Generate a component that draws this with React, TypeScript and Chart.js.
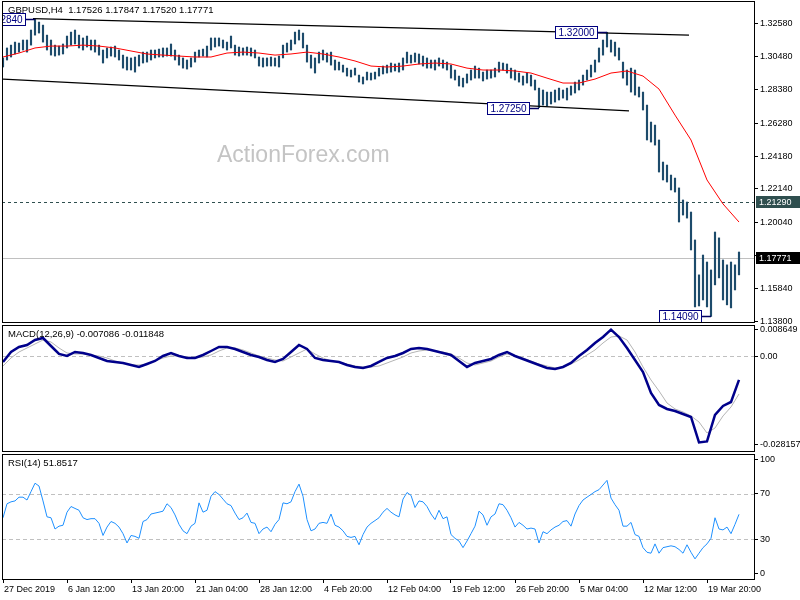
import React, { useEffect, useRef } from "react";
import { Chart, registerables } from "chart.js";

Chart.register(...registerables);

const FONT = '"Liberation Sans", Arial, Helvetica, sans-serif';

// ---------------- texts ----------------
const symbolTitle = "GBPUSD,H4  1.17526 1.17847 1.17520 1.17771";
const macdTitle = "MACD(12,26,9) -0.007086 -0.011848";
const rsiTitle = "RSI(14) 51.8517";
const watermark = "ActionForex.com";

// ---------------- time axis (H4 bar index) ----------------
const timeTickIdx = [0, 32, 64, 96, 128, 160, 192, 224, 256, 288, 320, 352];
const timeTickLabels = [
  "27 Dec 2019", "6 Jan 12:00", "13 Jan 20:00", "21 Jan 04:00", "28 Jan 12:00", "4 Feb 20:00",
  "12 Feb 04:00", "19 Feb 12:00", "26 Feb 20:00", "5 Mar 04:00", "12 Mar 12:00", "19 Mar 20:00",
];

// ---------------- axis ticks ----------------
const priceTicks = [1.3258, 1.3048, 1.2838, 1.2628, 1.2418, 1.2214, 1.2004, 1.1794, 1.1584, 1.138];
const macdTicks = [0.008649, 0, -0.028157];
const macdTickLabels = ["0.008649", "0.00", "-0.028157"];
const rsiTicks = [100, 70, 30, 0];
const rsiLevels = [70, 30];

// ---------------- price bars (every 2nd H4 bar) ----------------
const priceHigh = [
  1.3038, 1.3101, 1.3119, 1.3138, 1.3132, 1.3151, 1.3151, 1.3214, 1.3284, 1.3264,
  1.3245, 1.3182, 1.3151, 1.3119, 1.3113, 1.3126, 1.3176, 1.3201, 1.3214, 1.3182,
  1.3164, 1.3176, 1.3151, 1.3151, 1.3119, 1.3088, 1.3101, 1.3107, 1.3113, 1.3088,
  1.3056, 1.3044, 1.3038, 1.3044, 1.3056, 1.3075, 1.3075, 1.3088, 1.3088, 1.3094,
  1.3101, 1.3101, 1.3126, 1.3088, 1.3056, 1.3038, 1.3025, 1.3038, 1.3075, 1.3088,
  1.3094, 1.3113, 1.3164, 1.3164, 1.3164, 1.3151, 1.3138, 1.3176, 1.3119, 1.3107,
  1.3101, 1.3107, 1.3101, 1.3088, 1.3044, 1.3038, 1.3038, 1.3044, 1.3038, 1.3050,
  1.3119, 1.3132, 1.3151, 1.3201, 1.3214, 1.3195, 1.3119, 1.3056, 1.3038, 1.3075,
  1.3088, 1.3069, 1.3075, 1.3025, 1.3012, 1.2993, 1.2974, 1.2962, 1.2974, 1.2930,
  1.2918, 1.2949, 1.2943, 1.2949, 1.2974, 1.2987, 1.2993, 1.3006, 1.3000, 1.3006,
  1.3038, 1.3075, 1.3056, 1.3069, 1.3063, 1.3050, 1.3038, 1.3025, 1.3025, 1.3038,
  1.3025, 1.3012, 1.2993, 1.2962, 1.2924, 1.2911, 1.2937, 1.2962, 1.2987, 1.2974,
  1.2949, 1.2962, 1.2962, 1.2974, 1.3012, 1.3006, 1.3000, 1.2974, 1.2962, 1.2943,
  1.2924, 1.2943, 1.2930, 1.2899, 1.2848, 1.2836, 1.2823, 1.2823, 1.2836, 1.2848,
  1.2836, 1.2848, 1.2861, 1.2886, 1.2899, 1.2930, 1.2962, 1.2993, 1.3025, 1.3101,
  1.3151, 1.3200, 1.3151, 1.3138, 1.3101, 1.3012, 1.2962, 1.2974, 1.2962, 1.2855,
  1.2823, 1.2741, 1.2634, 1.2615, 1.2521, 1.2382, 1.2363, 1.2300, 1.2281, 1.2219,
  1.2143, 1.2130, 1.2067, 1.1891, 1.1671, 1.1796, 1.1752, 1.1702, 1.1941, 1.1904,
  1.1765, 1.1734, 1.1752, 1.1734, 1.1815,
];
const priceLow = [
  1.2981, 1.3025, 1.3044, 1.3063, 1.3075, 1.3088, 1.3075, 1.3119, 1.3182, 1.3195,
  1.3138, 1.3088, 1.3056, 1.3050, 1.3056, 1.3063, 1.3101, 1.3119, 1.3126, 1.3101,
  1.3088, 1.3107, 1.3088, 1.3075, 1.3056, 1.3006, 1.3038, 1.3050, 1.3044, 1.3025,
  1.2974, 1.2962, 1.2962, 1.2949, 1.2987, 1.3006, 1.3012, 1.3025, 1.3038, 1.3044,
  1.3044, 1.3050, 1.3050, 1.3025, 1.2993, 1.2974, 1.2968, 1.2981, 1.3012, 1.3044,
  1.3050, 1.3044, 1.3088, 1.3107, 1.3113, 1.3101, 1.3088, 1.3101, 1.3056, 1.3050,
  1.3056, 1.3056, 1.3050, 1.3038, 1.2987, 1.2981, 1.2987, 1.2987, 1.2987, 1.2981,
  1.3038, 1.3075, 1.3088, 1.3126, 1.3151, 1.3101, 1.3012, 1.2974, 1.2943, 1.3006,
  1.3025, 1.3012, 1.2993, 1.2962, 1.2962, 1.2949, 1.2924, 1.2918, 1.2930, 1.2886,
  1.2874, 1.2899, 1.2899, 1.2905, 1.2924, 1.2937, 1.2943, 1.2949, 1.2956, 1.2949,
  1.2962, 1.3006, 1.3006, 1.3012, 1.3000, 1.2987, 1.2974, 1.2974, 1.2962, 1.2987,
  1.2974, 1.2962, 1.2911, 1.2899, 1.2861, 1.2855, 1.2880, 1.2899, 1.2911, 1.2911,
  1.2893, 1.2905, 1.2911, 1.2918, 1.2949, 1.2962, 1.2943, 1.2911, 1.2899, 1.2886,
  1.2867, 1.2880, 1.2861, 1.2836, 1.2725, 1.2741, 1.2735, 1.2748, 1.2760, 1.2773,
  1.2785, 1.2773, 1.2804, 1.2817, 1.2836, 1.2867, 1.2899, 1.2918, 1.2949, 1.3012,
  1.3056, 1.3107, 1.3075, 1.3050, 1.3025, 1.2911, 1.2867, 1.2823, 1.2804, 1.2792,
  1.2710, 1.2521, 1.2508, 1.2489, 1.2319, 1.2269, 1.2256, 1.2206, 1.2193, 1.2004,
  1.2048, 1.2029, 1.1828, 1.1469, 1.1475, 1.1513, 1.1469, 1.1409, 1.1608, 1.1652,
  1.1513, 1.1482, 1.1463, 1.1576, 1.1671,
];

// ---------------- moving average (every 8th bar) ----------------
const ma = [
  1.3044, 1.3069, 1.3101, 1.3113, 1.3113, 1.3119, 1.3113, 1.3101, 1.3082, 1.3063,
  1.3056, 1.3050, 1.3044, 1.3044, 1.3069, 1.3075, 1.3069, 1.3056, 1.3063, 1.3075,
  1.3063, 1.3044, 1.3019, 1.2987, 1.2981, 1.2987, 1.3000, 1.3006, 1.3000, 1.2974,
  1.2962, 1.2962, 1.2956, 1.2943, 1.2911, 1.2880, 1.2880, 1.2905, 1.2943, 1.2956,
  1.2924, 1.2842, 1.2678, 1.2521, 1.2269, 1.2118, 1.2004,
];

// ---------------- MACD (every 4th bar) ----------------
const macdMain = [
  -0.00176, 0.00144, 0.00304, 0.00368, 0.00528, 0.00592, 0.00336, 0.0008, 0.00016, 0.00144,
  0.00112, 0.00048, -0.00048, -0.00144, -0.00176, -0.00208, -0.00272, -0.00336, -0.0024, -0.00144,
  0.00016, 0.00112, 0.00016, -0.00048, -0.00048, 0.00048, 0.00176, 0.00304, 0.00304, 0.0024,
  0.00144, 0.00048, -0.00016, -0.00112, -0.00176, -0.0008, 0.00144, 0.00368, 0.0024, -0.00048,
  -0.00112, -0.00144, -0.00176, -0.00272, -0.00336, -0.00368, -0.00304, -0.00176, -0.00048, 0.00016,
  0.00112, 0.0024, 0.00272, 0.0024, 0.00176, 0.00112, 0.00048, -0.00144, -0.00336, -0.00208,
  -0.00144, -0.0008, 0.00048, 0.00144, 0.00016, -0.0008, -0.00176, -0.00272, -0.00368, -0.004,
  -0.00336, -0.00208, 0.00016, 0.00208, 0.00432, 0.00624, 0.0086, 0.00624, 0.00272, -0.00112,
  -0.00496, -0.01168, -0.01552, -0.0168, -0.01745, -0.0184, -0.01936, -0.0275, -0.0272, -0.01872,
  -0.01584, -0.01456, -0.0075,
];
const macdSignal = [
  -0.00304, -0.00048, 0.00144, 0.00272, 0.004, 0.00528, 0.00464, 0.00272, 0.00112, 0.0008,
  0.0008, 0.00048, 0.00016, -0.00048, -0.00144, -0.00208, -0.00272, -0.00272, -0.0024, -0.00144,
  -0.00048, 0.00016, 0.00016, -0.00016, -0.00048, -0.00016, 0.00048, 0.00176, 0.00272, 0.00272,
  0.00208, 0.00112, 0.00016, -0.00048, -0.00112, -0.00144, -0.00016, 0.00112, 0.0024, 0.0008,
  -0.00048, -0.00144, -0.00176, -0.0024, -0.00304, -0.00336, -0.00336, -0.00304, -0.00208, -0.00112,
  -0.00016, 0.00112, 0.00176, 0.00208, 0.00176, 0.00144, 0.0008, -0.00048, -0.00208, -0.00272,
  -0.00208, -0.00144, -0.00016, 0.0008, 0.00016, -0.00048, -0.00144, -0.0024, -0.00304, -0.00368,
  -0.00336, -0.0024, -0.00112, 0.00048, 0.00208, 0.00432, 0.00624, 0.00656, 0.00528, 0.00144,
  -0.00336, -0.00752, -0.01104, -0.01488, -0.0168, -0.01776, -0.01904, -0.02097, -0.02449, -0.02289,
  -0.01904, -0.01616, -0.012,
];

// ---------------- RSI (every 2nd bar) ----------------
const rsi = [
  48.9, 61.2, 62.9, 63.7, 67.0, 67.0, 64.5, 71.9, 79.3, 76.8,
  63.7, 49.7, 48.9, 39.0, 41.5, 42.3, 53.8, 58.8, 57.1, 55.5,
  48.9, 47.3, 48.1, 48.1, 44.0, 33.3, 40.7, 45.6, 44.0, 40.7,
  34.9, 26.7, 33.3, 32.5, 30.8, 45.6, 47.3, 52.2, 53.0, 53.8,
  54.7, 61.2, 57.9, 51.4, 43.1, 37.4, 34.9, 41.5, 44.0, 62.0,
  53.8, 55.5, 67.8, 71.9, 69.4, 65.3, 61.2, 59.6, 53.0, 47.3,
  48.9, 53.0, 44.8, 44.0, 34.9, 39.0, 40.7, 36.6, 43.1, 47.3,
  62.0, 61.2, 62.9, 71.9, 78.5, 67.8, 47.3, 37.4, 39.0, 44.0,
  44.8, 44.0, 52.2, 42.3, 40.7, 37.4, 32.5, 31.6, 32.5, 25.1,
  34.1, 40.7, 44.0, 46.4, 48.9, 53.8, 57.1, 53.8, 51.4, 49.7,
  65.3, 71.1, 68.6, 57.9, 63.7, 62.9, 58.8, 52.2, 47.3, 55.5,
  48.1, 49.7, 34.1, 30.8, 28.4, 22.6, 28.4, 34.9, 41.5, 54.7,
  51.4, 42.3, 49.7, 52.2, 61.2, 60.4, 55.5, 48.9, 40.7, 44.8,
  42.3, 39.0, 39.8, 39.0, 26.7, 36.6, 34.9, 38.2, 40.7, 42.3,
  45.6, 46.4, 41.5, 52.2, 59.6, 64.5, 67.0, 69.4, 71.9, 73.6,
  77.7, 81.8, 66.2, 60.4, 55.5, 41.5, 41.5, 44.8, 34.1, 32.5,
  22.6, 18.5, 17.7, 25.9, 17.7, 22.6, 23.4, 24.2, 23.4, 21.0,
  17.7, 25.1, 18.5, 12.7, 17.7, 22.6, 25.9, 30.8, 48.9, 39.0,
  38.2, 40.7, 34.9, 43.1, 51.9,
];

// ---------------- price objects ----------------
const levelPrice = 1.2129;
const lastPrice = 1.17771;
const upperTrendIdx = [15, 343];
const upperTrendPrice = [1.3286, 1.3182];
const lowerTrendIdx = [0, 313];
const lowerTrendPrice = [1.2905, 1.2704];
const markIdx = [16, 268, 302, 354];
const markPrice = [1.3284, 1.2725, 1.32, 1.1409];

// bar index positions (category positions)
const barIdx = priceHigh.map((_, i) => i * 2);
const maIdx = ma.map((_, i) => i * 8);
const macdIdx = macdMain.map((_, i) => i * 4);
const rsiIdx = rsi.map((_, i) => i * 2);

const X_MIN = -0.5;
const X_MAX = 375.5;

function hiddenX(): any {
  return {
    type: "linear",
    min: X_MIN,
    max: X_MAX,
    offset: false,
    display: false,
    grid: { offset: false },
  };
}

function rightAxis(min: number, max: number, values: number[], labels: string[]): any {
  return {
    type: "linear",
    position: "right",
    min,
    max,
    afterBuildTicks: (s: any) => {
      s.ticks = values.map((v) => ({ value: v }));
    },
    afterFit: (s: any) => {
      s.width = 46;
      s.paddingTop = 0;
      s.paddingBottom = 0;
    },
    ticks: {
      autoSkip: false,
      padding: 2,
      color: "#000",
      font: { family: FONT, size: 9 },
      callback: (_v: any, i: number) => labels[i],
    },
    grid: { drawOnChartArea: false, drawTicks: true, tickLength: 4, color: "#000", tickColor: "#000" },
    border: { display: true, color: "#000" },
  };
}

function drawFrame(chart: any) {
  const { ctx, chartArea: a } = chart;
  ctx.save();
  ctx.strokeStyle = "#000";
  ctx.lineWidth = 1;
  ctx.strokeRect(a.left + 0.5, a.top + 0.5, a.right - a.left, a.bottom - a.top);
  ctx.restore();
}

function hLine(chart: any, value: number, color: string, dash: number[]) {
  const { ctx, chartArea: a, scales } = chart;
  const y = Math.round(scales.y.getPixelForValue(value)) + 0.5;
  ctx.save();
  ctx.strokeStyle = color;
  ctx.lineWidth = 1;
  ctx.setLineDash(dash);
  ctx.beginPath();
  ctx.moveTo(a.left, y);
  ctx.lineTo(a.right, y);
  ctx.stroke();
  ctx.restore();
}

function panelTitle(chart: any, text: string, dy: number) {
  const { ctx, chartArea: a } = chart;
  ctx.save();
  ctx.font = `9.5px ${FONT}`;
  ctx.fillStyle = "#000";
  ctx.textAlign = "left";
  ctx.textBaseline = "middle";
  ctx.fillText(text, a.left + 6, a.top + dy);
  ctx.restore();
}

function axisBox(chart: any, value: number, fill: string) {
  const { ctx, chartArea: a, scales } = chart;
  const y = Math.round(scales.y.getPixelForValue(value));
  ctx.save();
  ctx.fillStyle = fill;
  ctx.fillRect(a.right + 2, y - 6, 44, 12);
  ctx.font = `9px ${FONT}`;
  ctx.fillStyle = "#fff";
  ctx.textAlign = "left";
  ctx.textBaseline = "middle";
  ctx.fillText(value.toFixed(5), a.right + 5, y + 0.5);
  ctx.restore();
}

const pricePlugin = {
  id: "pricePanel",
  beforeDatasetsDraw(chart: any) {
    const { ctx, chartArea: a } = chart;
    ctx.save();
    ctx.font = `23px ${FONT}`;
    ctx.fillStyle = "#c4c4c4";
    ctx.textAlign = "left";
    ctx.textBaseline = "middle";
    ctx.fillText(watermark, a.left + 215, a.top + 155);
    ctx.restore();
    hLine(chart, lastPrice, "#c0c0c0", []);
    hLine(chart, levelPrice, "#2f4f4f", [3, 3]);
  },
  afterDatasetsDraw(chart: any) {
    const { ctx, chartArea: a, scales } = chart;
    ctx.save();
    ctx.beginPath();
    ctx.rect(a.left, a.top, a.right - a.left, a.bottom - a.top);
    ctx.clip();
    ctx.font = `10px ${FONT}`;
    ctx.textAlign = "left";
    ctx.textBaseline = "middle";
    markIdx.forEach((idx, i) => {
      const px = scales.x.getPixelForValue(idx);
      const py = Math.round(scales.y.getPixelForValue(markPrice[i])) + 0.5;
      const txt = markPrice[i].toFixed(5);
      const w = Math.round(ctx.measureText(txt).width) + 6;
      const h = 12;
      const bx = Math.round(px - 10 - w) + 0.5;
      ctx.strokeStyle = "#000060";
      ctx.lineWidth = 1.5;
      ctx.beginPath();
      ctx.moveTo(bx + w, py);
      ctx.lineTo(px, py);
      ctx.stroke();
      ctx.fillStyle = "#fff";
      ctx.fillRect(bx, py - h / 2, w, h);
      ctx.lineWidth = 1;
      ctx.strokeStyle = "#000080";
      ctx.strokeRect(bx, py - h / 2, w, h);
      ctx.fillStyle = "#000080";
      ctx.fillText(txt, bx + 3, py + 0.5);
    });
    ctx.restore();
    panelTitle(chart, symbolTitle, 9);
  },
  afterDraw(chart: any) {
    drawFrame(chart);
    axisBox(chart, levelPrice, "#2f4f4f");
    axisBox(chart, lastPrice, "#000");
  },
};

const macdPlugin = {
  id: "macdPanel",
  beforeDatasetsDraw(chart: any) {
    hLine(chart, 0, "#c0c0c0", [4, 3]);
  },
  afterDatasetsDraw(chart: any) {
    panelTitle(chart, macdTitle, 9);
  },
  afterDraw(chart: any) {
    drawFrame(chart);
  },
};

const rsiPlugin = {
  id: "rsiPanel",
  beforeDatasetsDraw(chart: any) {
    rsiLevels.forEach((v) => hLine(chart, v, "#c0c0c0", [4, 3]));
  },
  afterDatasetsDraw(chart: any) {
    panelTitle(chart, rsiTitle, 9);
  },
  afterDraw(chart: any) {
    drawFrame(chart);
  },
};

const baseOptions = {
  responsive: false,
  animation: false as const,
  events: [] as any[],
  devicePixelRatio: 1,
  plugins: { legend: { display: false }, tooltip: { enabled: false } },
};

export default function App() {
  const pRef = useRef<HTMLCanvasElement>(null);
  const mRef = useRef<HTMLCanvasElement>(null);
  const rRef = useRef<HTMLCanvasElement>(null);

  useEffect(() => {
    document.body.style.margin = "0";
    document.body.style.background = "#fff";
    const charts: Chart[] = [];

    // ---- price panel ----
    charts.push(
      new Chart(pRef.current as HTMLCanvasElement, {
        type: "bar",
        data: {
          datasets: [
            {
              type: "line",
              data: ma.map((v, i) => ({ x: maIdx[i], y: v })),
              borderColor: "#ff0000",
              borderWidth: 1,
              pointRadius: 0,
              order: 1,
            } as any,
            {
              type: "line",
              data: upperTrendPrice.map((v, i) => ({ x: upperTrendIdx[i], y: v })),
              borderColor: "#000",
              borderWidth: 1.3,
              pointRadius: 0,
              order: 0,
            } as any,
            {
              type: "line",
              data: lowerTrendPrice.map((v, i) => ({ x: lowerTrendIdx[i], y: v })),
              borderColor: "#000",
              borderWidth: 1.3,
              pointRadius: 0,
              order: 0,
            } as any,
            {
              type: "bar",
              data: priceHigh.map((h, i) => ({ x: barIdx[i], y: [priceLow[i], h] })),
              backgroundColor: "#1d4b6b",
              borderWidth: 0,
              barThickness: 1.5,
              grouped: false,
              order: 2,
            } as any,
          ],
        },
        options: {
          ...baseOptions,
          layout: { padding: { top: 1, bottom: 278, left: 2, right: 0 } },
          scales: {
            x: hiddenX(),
            y: rightAxis(1.1374, 1.3397, priceTicks, priceTicks.map((v) => v.toFixed(5))),
          },
        } as any,
        plugins: [pricePlugin],
      })
    );

    // ---- MACD panel ----
    charts.push(
      new Chart(mRef.current as HTMLCanvasElement, {
        type: "line",
        data: {
          datasets: [
            {
              data: macdSignal.map((v, i) => ({ x: macdIdx[i], y: v })),
              borderColor: "#b4b4b4",
              borderWidth: 1,
              pointRadius: 0,
              order: 1,
            },
            {
              data: macdMain.map((v, i) => ({ x: macdIdx[i], y: v })),
              borderColor: "#00008b",
              borderWidth: 2.5,
              pointRadius: 0,
              order: 0,
            },
          ],
        },
        options: {
          ...baseOptions,
          layout: { padding: { top: 325, bottom: 149, left: 2, right: 0 } },
          scales: {
            x: hiddenX(),
            y: rightAxis(-0.03025, 0.01008, macdTicks, macdTickLabels),
          },
        } as any,
        plugins: [macdPlugin],
      })
    );

    // ---- RSI panel ----
    charts.push(
      new Chart(rRef.current as HTMLCanvasElement, {
        type: "line",
        data: {
          datasets: [
            {
              data: rsi.map((v, i) => ({ x: rsiIdx[i], y: v })),
              borderColor: "#1e90ff",
              borderWidth: 1,
              pointRadius: 0,
            },
          ],
        },
        options: {
          ...baseOptions,
          layout: { padding: { top: 454, bottom: 0, left: 2, right: 0 } },
          scales: {
            x: {
              type: "linear",
              min: X_MIN,
              max: X_MAX,
              offset: false,
              position: "bottom",
              afterBuildTicks: (s: any) => {
                s.ticks = timeTickIdx.map((v) => ({ value: v }));
              },
              afterFit: (s: any) => {
                s.height = 21;
                s.paddingLeft = 0;
                s.paddingRight = 0;
              },
              ticks: {
                autoSkip: false,
                maxRotation: 0,
                minRotation: 0,
                align: "start",
                padding: 1,
                labelOffset: 1,
                color: "#000",
                font: { family: FONT, size: 9 },
                callback: (_v: any, i: number) => timeTickLabels[i],
              },
              grid: { drawOnChartArea: false, drawTicks: true, tickLength: 4, color: "#000", tickColor: "#000", offset: false },
              border: { display: true, color: "#000" },
            },
            y: rightAxis(-5, 105, rsiTicks, rsiTicks.map((v) => String(v))),
          },
        } as any,
        plugins: [rsiPlugin],
      })
    );

    return () => {
      charts.forEach((c) => c.destroy());
    };
  }, []);

  const cs: React.CSSProperties = { position: "absolute", left: 0, top: 0 };
  return (
    <div style={{ position: "relative", width: 800, height: 600, background: "#fff", overflow: "hidden" }}>
      <canvas ref={pRef} width={800} height={600} style={cs} />
      <canvas ref={mRef} width={800} height={600} style={cs} />
      <canvas ref={rRef} width={800} height={600} style={cs} />
    </div>
  );
}
